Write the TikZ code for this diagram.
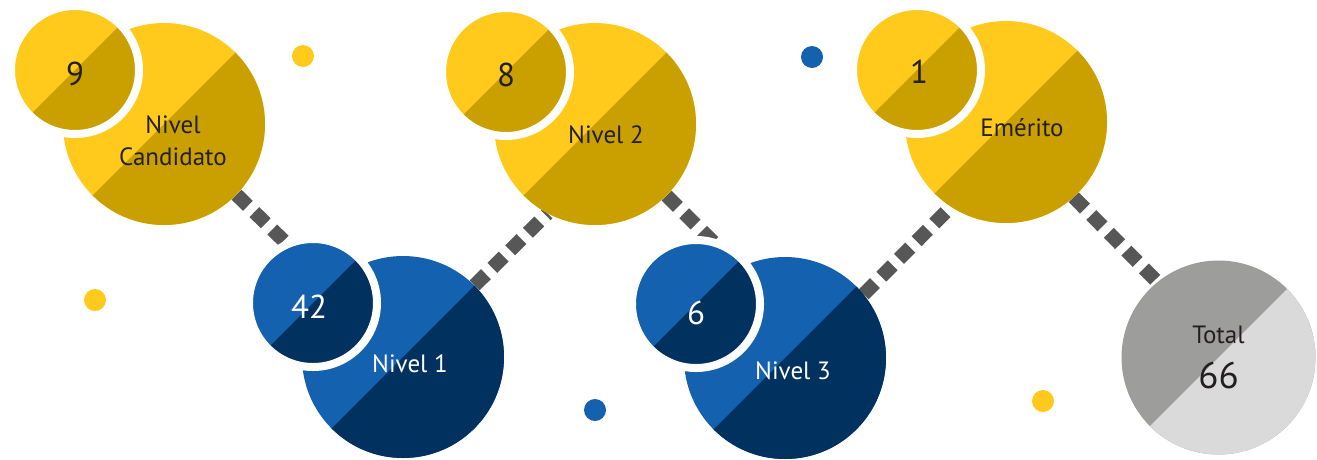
\documentclass[tikz,border=0pt]{standalone}
\usepackage{fontspec}
\setmainfont{PT Sans}
\usetikzlibrary{calc,backgrounds}

\definecolor{yelLight}{HTML}{FFCA1C}
\definecolor{yelDark}{HTML}{CAA000}
\definecolor{bluLight}{HTML}{1462AF}
\definecolor{bluDark}{HTML}{01315F}
\definecolor{grLight}{HTML}{DADADA}
\definecolor{grDark}{HTML}{9D9D9C}
\definecolor{linkGray}{HTML}{575757}
\definecolor{ink}{HTML}{231F20}

\tikzset{
	halves/.style 2 args={circle,inner sep=0pt,fill=#1,
		path picture={\fill[#2] (path picture bounding box.north east) -- (path picture bounding box.south west) -- (path picture bounding box.south east) -- cycle;}},
	bigc/.style={minimum size=202pt},
	smallc/.style={minimum size=128pt,draw=white,line width=8pt},
	dot/.style={circle,inner sep=0pt,minimum size=22pt},
	lbl/.style={align=center,font=\fontsize{25}{32}\selectfont},
	num/.style={font=\fontsize{33}{36}\selectfont},
	link/.style={linkGray,line width=14pt,dash pattern=on 16pt off 9pt}
}

\begin{document}
\begin{tikzpicture}[x=1pt,y=-1pt]
	\useasboundingbox (0,0) rectangle (1317,459);

	\node[bigc,halves={yelLight}{yelDark},label={[lbl,text=ink,xshift=9pt,yshift=-17pt]center:Nivel\\Candidato}] (cand) at (164,124) {};
	\node[bigc,halves={bluLight}{bluDark},label={[lbl,text=white,xshift=7pt,yshift=-7pt]center:Nivel 1}] (niv1) at (403,357) {};
	\node[bigc,halves={yelLight}{yelDark},label={[lbl,text=ink,xshift=11pt,yshift=-11pt]center:Nivel 2}] (niv2) at (595,124) {};
	\node[bigc,halves={bluLight}{bluDark},label={[lbl,text=white,xshift=8pt,yshift=-13pt]center:Nivel 3}] (niv3) at (785,358) {};
	\node[bigc,halves={yelLight}{yelDark},label={[lbl,text=ink,xshift=16pt,yshift=-6pt]center:Emérito}] (emer) at (1006,122) {};
	\node[halves={grDark}{grLight},minimum size=194pt,label={[lbl,text=ink,yshift=23pt]center:Total},label={[num,text=ink,font=\fontsize{37}{40}\selectfont,yshift=-18pt]center:66}] (total) at (1218.5,357.5) {};

	\node[smallc,halves={yelLight}{yelDark},label={[num,text=ink,yshift=-4pt]center:9}] (n9) at ($(cand)+(-89,-54)$) {};
	\node[smallc,halves={bluLight}{bluDark},label={[num,text=white,xshift=-4pt,yshift=-4pt]center:42}] (n42) at ($(niv1)+(-90,-54)$) {};
	\node[smallc,halves={yelLight}{yelDark},label={[num,text=ink,yshift=-3pt]center:8}] (n8) at ($(niv2)+(-89,-52)$) {};
	\node[smallc,halves={bluLight}{bluDark},label={[num,text=white,yshift=-9pt]center:6}] (n6) at ($(niv3)+(-89,-54)$) {};
	\node[smallc,halves={yelLight}{yelDark},label={[num,text=ink,xshift=2pt,yshift=-2pt]center:1}] (n1) at ($(emer)+(-89,-52)$) {};

	\foreach \x/\y/\c [count=\i] in {303/56/yelLight,95/300/yelLight,595/410/bluLight,812/57/bluLight,1043/401/yelLight}
		\node[dot,fill=\c] (dot\i) at (\x,\y) {};

	\begin{scope}[on background layer]
		\draw[link] (cand) -- (niv1);
		\draw[link] (niv1.45) -- (niv2.242);
		\draw[link] (niv2.-45) -- (niv3.117);
		\draw[link] (niv3.39) -- (emer.237);
		\draw[link] (emer.-48) -- (total.129);
	\end{scope}
\end{tikzpicture}
\end{document}
